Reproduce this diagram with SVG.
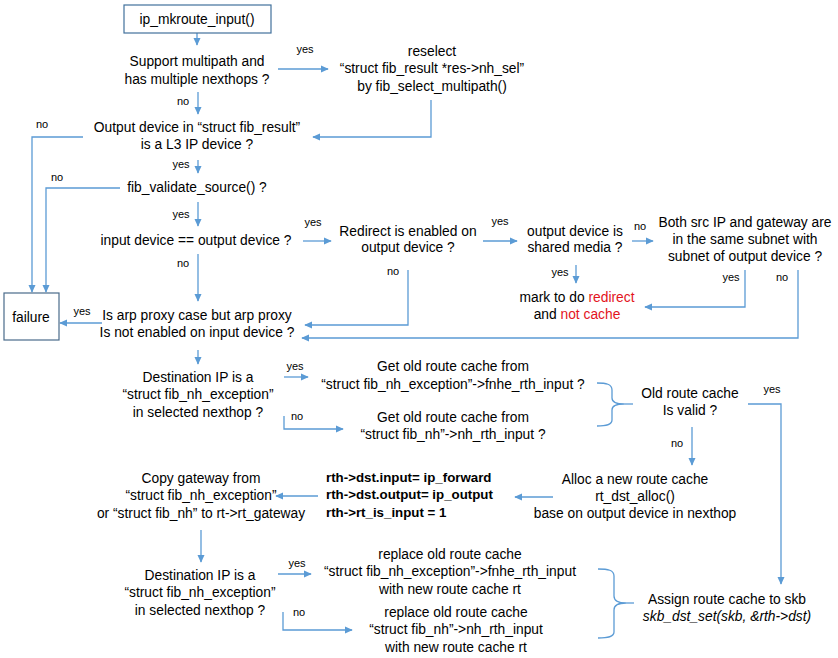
<svg xmlns="http://www.w3.org/2000/svg" width="838" height="658" viewBox="0 0 838 658">
<defs>
<marker id="ah" viewBox="0 0 10 10" refX="9" refY="5" markerWidth="8" markerHeight="8" orient="auto" markerUnits="userSpaceOnUse"><path d="M0,0.5 L10,5 L0,9.5 z" fill="#5b9bd5"/></marker>
</defs>
<style>
text{font-family:"Liberation Sans",Arial,sans-serif;font-size:13.8px;fill:#000;text-anchor:middle}
.lbl{font-size:11px}
.l{text-anchor:start}
.b{font-weight:bold;font-size:13.3px}
.r{fill:#e3141c}
.it{font-style:italic}
.c{fill:none;stroke:#5b9bd5;stroke-width:1.3}
.a{marker-end:url(#ah)}
.box{fill:#fff;stroke:#41719c;stroke-width:1.2}
.box2{fill:#fff;stroke:#4a6b8a;stroke-width:1.2}
</style>
<rect width="838" height="658" fill="#fff"/>

<g id="connectors">
<path class="c a" d="M197,33 V45"/>
<path class="c a" d="M278,69 H328"/>
<path class="c a" d="M431,100 V137 H313"/>
<path class="c a" d="M198,92 V114"/>
<path class="c a" d="M83,137 H32 V292"/>
<path class="c a" d="M198,160 V173"/>
<path class="c a" d="M120,188 H46 V292"/>
<path class="c a" d="M198,202 V226"/>
<path class="c a" d="M303,241 H331"/>
<path class="c a" d="M408,270 V325 H305"/>
<path class="c a" d="M483,241 H517"/>
<path class="c a" d="M632,241 H653"/>
<path class="c a" d="M576,265 V283"/>
<path class="c a" d="M745,270 V307 H645"/>
<path class="c a" d="M798,270 V338 H302"/>
<path class="c a" d="M198,254 V301"/>
<path class="c a" d="M102,323 H60"/>
<path class="c a" d="M198,350 V364"/>
<path class="c a" d="M284,377 H308"/>
<path class="c a" d="M284,416 V429 H343"/>
<path class="c" d="M597,383 C606,383 612,384 612,390 V398 C612,402 616,404 624,404 C616,404 612,406 612,410 V420 C612,425 606,426 597,426"/>
<path class="c" d="M624,404 H633"/>
<path class="c a" d="M748,404 H781 V584"/>
<path class="c a" d="M692,427 V465"/>
<path class="c a" d="M553,497 H515"/>
<path class="c a" d="M318,496 H276"/>
<path class="c a" d="M201,530 V562"/>
<path class="c a" d="M278,574 H311"/>
<path class="c a" d="M283,612 V630 H352"/>
<path class="c" d="M598,569 C608,569 614,570 614,576 V596 C614,600 618,603 626,603 C618,603 614,606 614,610 V632 C614,637 608,638 598,638"/>
<path class="c" d="M626,603 H634"/>
</g>

<g id="labels">
<text class="lbl" x="305" y="53">yes</text>
<text class="lbl" x="183" y="105">no</text>
<text class="lbl" x="42" y="128">no</text>
<text class="lbl" x="181" y="168">yes</text>
<text class="lbl" x="57" y="181">no</text>
<text class="lbl" x="181" y="218">yes</text>
<text class="lbl" x="313" y="226">yes</text>
<text class="lbl" x="393" y="275">no</text>
<text class="lbl" x="500" y="225">yes</text>
<text class="lbl" x="640" y="230">no</text>
<text class="lbl" x="560" y="276">yes</text>
<text class="lbl" x="731" y="281">yes</text>
<text class="lbl" x="782" y="281">no</text>
<text class="lbl" x="183" y="267">no</text>
<text class="lbl" x="82" y="315">yes</text>
<text class="lbl" x="295" y="370">yes</text>
<text class="lbl" x="297" y="420">no</text>
<text class="lbl" x="772" y="393">yes</text>
<text class="lbl" x="677" y="447">no</text>
<text class="lbl" x="297" y="567">yes</text>
<text class="lbl" x="299" y="616">no</text>
</g>

<g id="start">
<rect class="box" x="124" y="5" width="147" height="28"/>
<text x="197" y="24">ip_mkroute_input()</text>
</g>

<g id="multipath">
<text x="197" y="66">Support multipath and</text>
<text x="197" y="84">has multiple nexthops ?</text>
</g>

<g id="reselect">
<text x="432" y="56">reselect</text>
<text x="432" y="73">“struct fib_result *res-&gt;nh_sel”</text>
<text x="432" y="91">by fib_select_multipath()</text>
</g>

<g id="l3dev">
<text x="197" y="132">Output device in “struct fib_result”</text>
<text x="197" y="149">is a L3 IP device ?</text>
</g>

<g id="validate">
<text x="197" y="192">fib_validate_source() ?</text>
</g>

<g id="samedev">
<text x="196" y="245">input device == output device ?</text>
</g>

<g id="redirect">
<text x="408" y="236">Redirect is enabled on</text>
<text x="408" y="252">output device ?</text>
</g>

<g id="shared">
<text x="575" y="236">output device is</text>
<text x="575" y="252">shared media ?</text>
</g>

<g id="subnet">
<text x="745" y="227">Both src IP and gateway are</text>
<text x="745" y="244">in the same subnet with</text>
<text x="745" y="261">subnet of output device ?</text>
</g>

<g id="mark">
<text x="577" y="302">mark to do <tspan class="r">redirect</tspan></text>
<text x="577" y="319">and <tspan class="r">not cache</tspan></text>
</g>

<g id="failure">
<rect class="box2" x="4" y="293" width="55" height="47"/>
<text x="31" y="322">failure</text>
</g>

<g id="arpproxy">
<text x="197" y="320">Is arp proxy case but arp proxy</text>
<text x="197" y="337">Is not enabled on input device ?</text>
</g>

<g id="dstexc1">
<text x="198" y="382">Destination IP is a</text>
<text x="198" y="399">“struct fib_nh_exception”</text>
<text x="198" y="417">in selected nexthop ?</text>
</g>

<g id="getexc">
<text x="453" y="371">Get old route cache from</text>
<text x="453" y="389">“struct fib_nh_exception”-&gt;fnhe_rth_input ?</text>
</g>

<g id="getnh">
<text x="453" y="422">Get old route cache from</text>
<text x="453" y="439">“struct fib_nh”-&gt;nh_rth_input ?</text>
</g>

<g id="valid">
<text x="690" y="398">Old route cache</text>
<text x="690" y="415">Is valid ?</text>
</g>

<g id="alloc">
<text x="635" y="484">Alloc a new route cache</text>
<text x="635" y="501">rt_dst_alloc()</text>
<text x="635" y="518">base on output device in nexthop</text>
</g>

<g id="setfn">
<text class="l b" x="326" y="482">rth-&gt;dst.input= ip_forward</text>
<text class="l b" x="326" y="499">rth-&gt;dst.output= ip_output</text>
<text class="l b" x="326" y="517">rth-&gt;rt_is_input = 1</text>
</g>

<g id="copygw">
<text x="201" y="483">Copy gateway from</text>
<text x="201" y="500">“struct fib_nh_exception”</text>
<text x="201" y="518">or “struct fib_nh” to rt-&gt;rt_gateway</text>
</g>

<g id="dstexc2">
<text x="200" y="580">Destination IP is a</text>
<text x="200" y="597">“struct fib_nh_exception”</text>
<text x="200" y="615">in selected nexthop ?</text>
</g>

<g id="replexc">
<text x="450" y="559">replace old route cache</text>
<text x="450" y="576">“struct fib_nh_exception”-&gt;fnhe_rth_input</text>
<text x="450" y="594">with new route cache rt</text>
</g>

<g id="replnh">
<text x="456" y="617">replace old route cache</text>
<text x="456" y="634">“struct fib_nh”-&gt;nh_rth_input</text>
<text x="456" y="652">with new route cache rt</text>
</g>

<g id="assign">
<text x="727" y="604">Assign route cache to skb</text>
<text class="it" x="727" y="621">skb_dst_set(skb, &amp;rth-&gt;dst)</text>
</g>
</svg>
